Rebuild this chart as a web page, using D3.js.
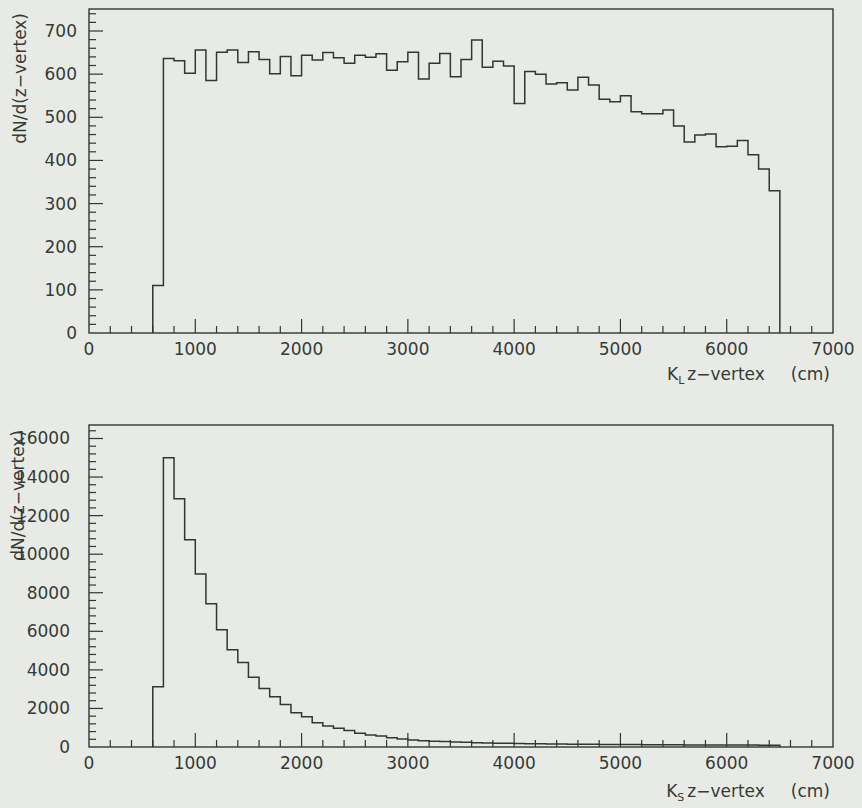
<!DOCTYPE html>
<html>
<head>
<meta charset="utf-8">
<script src="https://cdn.jsdelivr.net/npm/d3@7"></script>
<style>
  html, body { margin: 0; padding: 0; background: #e8ebe5; }
  svg { display: block; }
  text { font-family: 'DejaVu Sans', sans-serif; fill: #353a37; }
</style>
</head>
<body>
<svg id="chart" width="862" height="808"></svg>
<script>
// lower edges of the 100 cm z-vertex bins (cm)
const binWidth = 100
const zLow = d3.range(600, 6500, binWidth)

// K_L counts per bin
const klCounts = [
  110, 636, 631, 602, 656, 585, 651, 656, 627, 652,
  634, 601, 641, 596, 644, 633, 650, 638, 625, 644,
  639, 647, 609, 629, 651, 589, 625, 648, 594, 634,
  679, 616, 630, 619, 532, 606, 600, 577, 580, 563,
  593, 575, 542, 536, 550, 513, 508, 508, 517, 480,
  443, 459, 461, 432, 433, 446, 413, 380, 330
]

// K_S counts per bin
const ksCounts = [
  3130, 15000, 12870, 10750, 8970, 7430, 6080, 5040, 4380, 3620,
  3030, 2600, 2200, 1780, 1570, 1260, 1090, 970, 850, 710,
  620, 570, 480, 415, 360, 330, 300, 280, 260, 240,
  225, 210, 200, 190, 180, 172, 165, 160, 152, 148,
  142, 138, 134, 130, 127, 124, 120, 118, 115, 112,
  110, 108, 106, 104, 102, 100, 98, 96, 94
]

const xTicks = [0, 1000, 2000, 3000, 4000, 5000, 6000, 7000]
const klYTicks = [0, 100, 200, 300, 400, 500, 600, 700]
const ksYTicks = [0, 2000, 4000, 6000, 8000, 10000, 12000, 14000, 16000]

const ink = '#2d3833'
const svg = d3.select('#chart')

function drawPanel (opt) {
  const x = d3.scaleLinear().domain([0, 7000]).range([89, 833])
  const y = d3.scaleLinear().domain([0, opt.yMax]).range([opt.bottom, opt.top])
  const g = svg.append('g')

  // frame
  g.append('rect')
    .attr('x', x(0)).attr('y', y(opt.yMax))
    .attr('width', x(7000) - x(0)).attr('height', y(0) - y(opt.yMax))
    .attr('fill', 'none').attr('stroke', ink).attr('stroke-width', 1.4)

  // x ticks: major every 1000, minor every 200
  const xMinor = d3.range(200, 7000, 200).filter(v => v % 1000 !== 0)
  g.selectAll('.xmin').data(xMinor).join('line')
    .attr('x1', d => x(d)).attr('x2', d => x(d))
    .attr('y1', y(0)).attr('y2', y(0) - 7)
    .attr('stroke', ink).attr('stroke-width', 1.2)
  g.selectAll('.xmaj').data(xTicks.slice(1, -1)).join('line')
    .attr('x1', d => x(d)).attr('x2', d => x(d))
    .attr('y1', y(0)).attr('y2', y(0) - 14)
    .attr('stroke', ink).attr('stroke-width', 1.2)
  g.selectAll('.xlab').data(xTicks).join('text')
    .attr('x', d => x(d)).attr('y', y(0) + 22)
    .attr('text-anchor', 'middle').style('font-size', '17px')
    .text(d => d)

  // y ticks
  const yMinor = d3.range(opt.yMinorStep, opt.yMax, opt.yMinorStep)
    .filter(v => Math.abs(v % opt.yMajorStep) > 1e-6)
  g.selectAll('.ymin').data(yMinor).join('line')
    .attr('x1', x(0)).attr('x2', x(0) + 7)
    .attr('y1', d => y(d)).attr('y2', d => y(d))
    .attr('stroke', ink).attr('stroke-width', 1.2)
  g.selectAll('.ymaj').data(opt.yTicks.slice(1)).join('line')
    .attr('x1', x(0)).attr('x2', x(0) + 14)
    .attr('y1', d => y(d)).attr('y2', d => y(d))
    .attr('stroke', ink).attr('stroke-width', 1.2)
  g.selectAll('.ylab').data(opt.yTicks).join('text')
    .attr('x', opt.yLabelX).attr('y', d => y(d) + 6)
    .attr('text-anchor', 'end').style('font-size', '17px')
    .text(d => d)

  // histogram outline
  const pts = [[zLow[0], 0]]
  opt.counts.forEach((v, i) => {
    pts.push([zLow[i], v])
    pts.push([zLow[i] + binWidth, v])
  })
  pts.push([zLow[zLow.length - 1] + binWidth, 0])
  const line = d3.line().x(d => x(d[0])).y(d => y(d[1]))
  g.append('path')
    .attr('d', line(pts))
    .attr('fill', 'none').attr('stroke', ink).attr('stroke-width', 1.5)
    .attr('stroke-linejoin', 'miter')

  // y title
  g.append('text')
    .attr('transform', `translate(${opt.yTitleX},${opt.yTitleEnd}) rotate(-90)`)
    .attr('text-anchor', 'end').style('font-size', '17px')
    .text('dN/d(z\u2212vertex)')

  // x title
  const t = g.append('text')
    .attr('x', 830).attr('y', opt.xTitleY)
    .attr('text-anchor', 'end').style('font-size', '17px')
  t.append('tspan').text('K')
  t.append('tspan').attr('dy', 4).style('font-size', '11px').text(opt.sub)
  t.append('tspan').attr('dy', -4).attr('dx', 3).text('z\u2212vertex')
  t.append('tspan').attr('dx', 26).text('(cm)')
}

drawPanel({
  counts: klCounts, yMax: 751, top: 9, bottom: 333,
  yTicks: klYTicks, yMajorStep: 100, yMinorStep: 20,
  yLabelX: 77, yTitleX: 26, yTitleEnd: 13, xTitleY: 380, sub: 'L'
})

drawPanel({
  counts: ksCounts, yMax: 16700, top: 425, bottom: 747,
  yTicks: ksYTicks, yMajorStep: 2000, yMinorStep: 400,
  yLabelX: 70, yTitleX: 24, yTitleEnd: 430, xTitleY: 797, sub: 'S'
})
</script>
</body>
</html>
